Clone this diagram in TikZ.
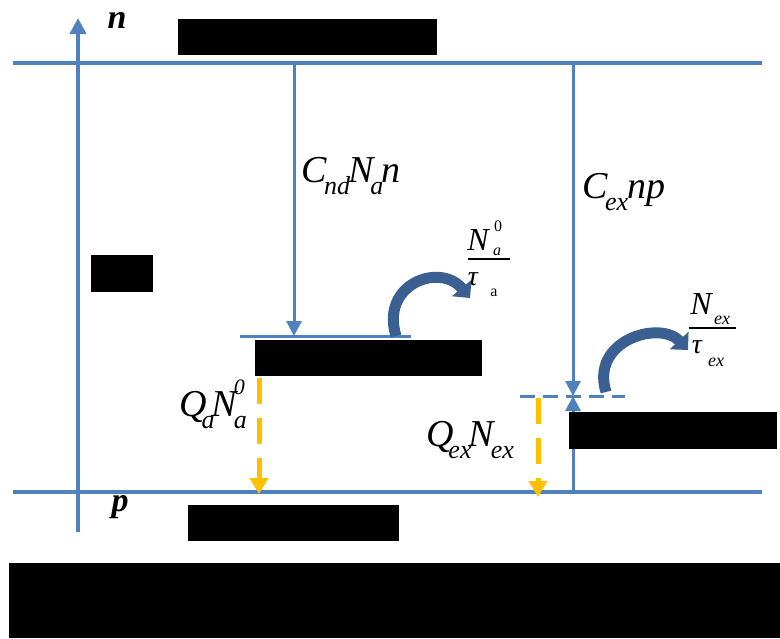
\documentclass[tikz,border=0pt]{standalone}
\usepackage{fontspec}
\setmainfont{Liberation Serif}
\usetikzlibrary{arrows.meta}
\definecolor{lineblue}{RGB}{79,129,189}
\definecolor{darkblue}{RGB}{58,96,146}
\definecolor{gold}{RGB}{255,192,0}
\newcommand\lsub[1]{\raisebox{-0.3em}{\fontsize{26}{26}\selectfont #1}}
\newcommand\lsup[1]{\raisebox{0.6em}{\fontsize{22}{22}\selectfont #1}}
\tikzset{
  bline/.style={draw=lineblue,line width=4pt},
  vline/.style={draw=lineblue,line width=3pt,-{Triangle[length=15pt,width=15pt]}},
  ydash/.style={draw=gold,line width=5pt,dash pattern=on 26pt off 14pt,-{Triangle[length=16pt,width=18pt]}},
  curv/.style={draw=darkblue,line width=11pt,-{Triangle[length=13pt,width=25pt]}},
  redact/.style={fill=black},
  lbl/.style={inner sep=0pt,font=\fontsize{38}{40}\selectfont\itshape},
  sml/.style={inner sep=0pt,font=\fontsize{32}{34}\selectfont\itshape},
  tiny/.style={inner sep=0pt,font=\fontsize{16}{18}\selectfont},
}
\begin{document}
\begin{tikzpicture}[x=1pt,y=-1pt]
\useasboundingbox (0,0) rectangle (780,638);
% coordinates
\coordinate (tl) at (13,63); \coordinate (tr) at (762,63);
\coordinate (bl) at (13,492); \coordinate (br) at (762,492);
\coordinate (ax0) at (78,532); \coordinate (ax1) at (78,18);
\coordinate (c1t) at (294,63); \coordinate (c1b) at (294,336);
\coordinate (c2t) at (573,63); \coordinate (c2m) at (573,396); \coordinate (c2b) at (573,492);
\coordinate (la) at (240,336); \coordinate (ra) at (411,336);
\coordinate (lex) at (520,396); \coordinate (rex) at (625,396);
\coordinate (ya0) at (259,378); \coordinate (ya1) at (259,494);
\coordinate (ye0) at (538,398); \coordinate (ye1) at (538,497);
% lines
\draw[bline] (tl) -- (tr);
\draw[bline] (bl) -- (br);
\draw[lineblue,line width=4pt,-{Triangle[length=16pt,width=16pt]}] (ax0) -- (ax1);
\draw[vline] (c1t) -- (c1b);
\draw[bline,line width=3pt] (la) -- (ra);
\draw[vline] (c2t) -- (c2m);
\draw[vline] (c2b) -- (c2m);
\draw[lineblue,line width=3pt,dash pattern=on 15pt off 8pt] (lex) -- (rex);
\draw[ydash] (ya0) -- (ya1);
\draw[ydash] (ye0) -- (ye1);
% curved arrows
\draw[curv] (396,336) .. controls (380,284) and (440,262) .. (470,298);
\draw[curv] (606,392) .. controls (590,340) and (660,320) .. (688,350);
% redactions
\fill[redact] (178,19) rectangle (437,55);
\fill[redact] (91,255) rectangle (153,292);
\fill[redact] (255,340) rectangle (482,376);
\fill[redact] (569,412) rectangle (777,449);
\fill[redact] (188,505) rectangle (399,541);
\fill[redact] (9,563) rectangle (780,638);
% labels
\node[lbl,font=\fontsize{34}{36}\selectfont\bfseries\itshape] (n) at (117,20) {n};
\node[lbl,font=\fontsize{34}{36}\selectfont\bfseries\itshape] (p) at (120,507) {p};
\node[lbl] (cnd) at (351,176) {C\kern-3pt\lsub{nd}\kern-2pt N\kern-3pt\lsub{a}\kern-2pt n};
\node[lbl] (cex) at (624,192) {C\kern-3pt\lsub{ex}\kern-1pt np};
\node[lbl] (qa) at (212,404) {Q\kern-5pt\lsub{a}\kern-3pt N\kern-3pt\rlap{\lsub{a}}\lsup{0}};
\node[lbl] (qex) at (470,440) {Q\kern-5pt\lsub{ex}\kern-3pt N\kern-3pt\lsub{ex}};
% fraction a
\node[sml] (Na) at (478,240) {N};
\node[tiny] (Na0) at (498,226) {0};
\node[tiny,font=\fontsize{16}{18}\selectfont\itshape] (Naa) at (497,252) {a};
\draw[line width=1.5pt] (468,259) -- (510,259);
\node[sml,font=\fontsize{28}{30}\selectfont\itshape] (ta) at (473,279) {τ};
\node[tiny] (taa) at (494,293) {a};
% fraction ex
\node[sml] (Nex) at (701,304) {N};
\node[tiny,font=\fontsize{18}{20}\selectfont\itshape] (Nexs) at (722,320) {ex};
\draw[line width=1.5pt] (689,328) -- (736,328);
\node[sml,font=\fontsize{28}{30}\selectfont\itshape] (tex) at (697,347) {τ};
\node[tiny,font=\fontsize{18}{20}\selectfont\itshape] (texs) at (716,362) {ex};
\end{tikzpicture}
\end{document}
